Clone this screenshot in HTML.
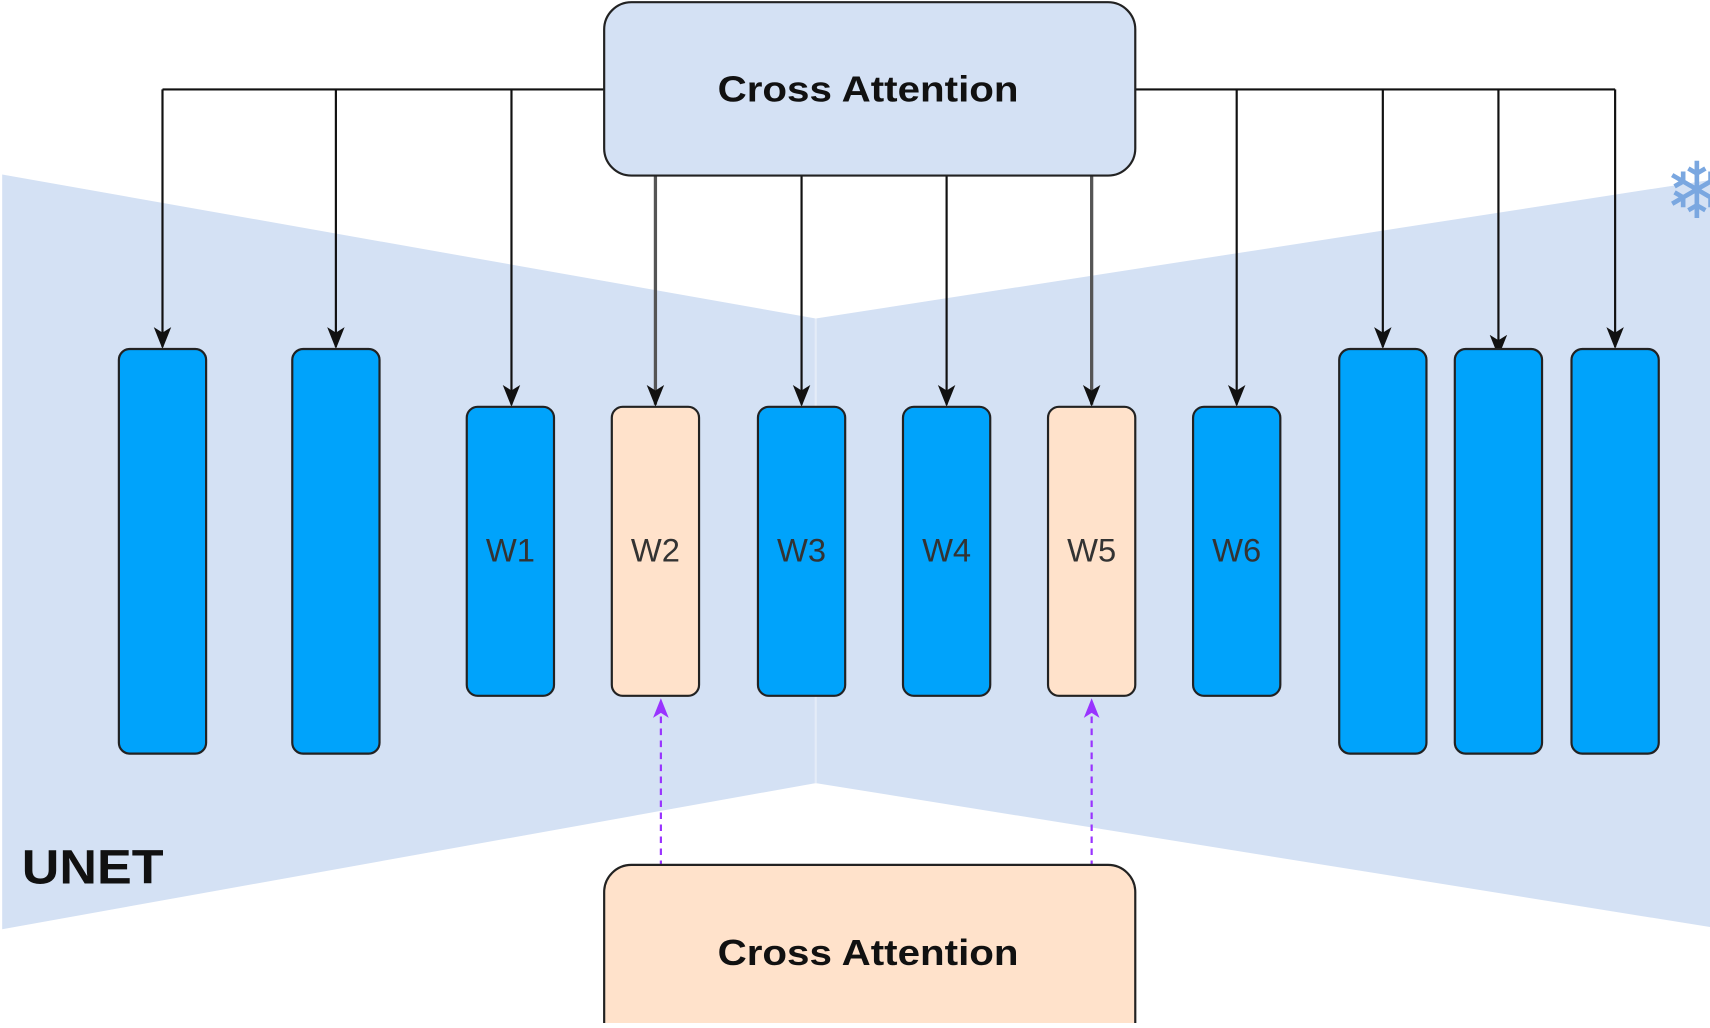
<!DOCTYPE html>
<html><head><style>html,body{margin:0;padding:0;background:#fff;overflow:hidden}</style></head>
<body>
<svg width="1710" height="1023" viewBox="0 0 1568 938" preserveAspectRatio="none" xmlns="http://www.w3.org/2000/svg" font-family="Liberation Sans, sans-serif">
<defs>
<marker id="a2" viewBox="0 0 20 20" markerWidth="20" markerHeight="20" refX="18" refY="10" orient="auto" markerUnits="userSpaceOnUse"><path d="M0,2 L20,10 L0,18 L5,10 z" fill="#111"/></marker>
<marker id="p" viewBox="0 0 20 20" markerWidth="18" markerHeight="18" refX="18" refY="10" orient="auto" markerUnits="userSpaceOnUse"><path d="M0,2 L20,10 L0,18 L5,10 z" fill="#9933ff"/></marker>
</defs>
<rect width="1568" height="938" fill="#fff"/>
<polygon points="2,160 748,292 748,718 2,852" fill="#d4e1f4"/>
<polygon points="748,292 1568,165 1568,850 748,718" fill="#d4e1f4"/>
<line x1="748" y1="292" x2="748" y2="718" stroke="#e4ecf8" stroke-width="2"/>
<text x="1556" y="200" font-size="72" fill="#7aa7e0" text-anchor="middle" font-family="DejaVu Sans, sans-serif">❄</text>
<g stroke="#111" stroke-width="2" fill="none">
<polyline points="149,82 554,82"/>
<polyline points="1041,82 1481,82"/>
<line x1="149" y1="82" x2="149" y2="318" marker-end="url(#a2)"/>
<line x1="308" y1="82" x2="308" y2="318" marker-end="url(#a2)"/>
<line x1="469" y1="82" x2="469" y2="371" marker-end="url(#a2)"/>
<line x1="601" y1="161" x2="601" y2="371" marker-end="url(#a2)" stroke="#555" stroke-width="3"/>
<line x1="735" y1="161" x2="735" y2="371" marker-end="url(#a2)"/>
<line x1="868" y1="161" x2="868" y2="371" marker-end="url(#a2)"/>
<line x1="1001" y1="161" x2="1001" y2="371" marker-end="url(#a2)" stroke="#555" stroke-width="3"/>
<line x1="1134" y1="82" x2="1134" y2="371" marker-end="url(#a2)"/>
<line x1="1268" y1="82" x2="1268" y2="318" marker-end="url(#a2)"/>
<line x1="1374" y1="82" x2="1374" y2="325" marker-end="url(#a2)"/>
<line x1="1481" y1="82" x2="1481" y2="318" marker-end="url(#a2)"/>
</g>
<rect x="554" y="2" width="487" height="159" rx="25" fill="#d4e1f4" stroke="#222" stroke-width="2"/>
<text x="658" y="93" font-size="33" font-weight="bold" fill="#111" textLength="276" lengthAdjust="spacingAndGlyphs">Cross Attention</text>
<g stroke="#222" stroke-width="2" fill="#00a3fb">
<rect x="109" y="320" width="80" height="371" rx="10"/>
<rect x="268" y="320" width="80" height="371" rx="10"/>
<rect x="1228" y="320" width="80" height="371" rx="10"/>
<rect x="1334" y="320" width="80" height="371" rx="10"/>
<rect x="1441" y="320" width="80" height="371" rx="10"/>
<rect x="428" y="373" width="80" height="265" rx="10"/>
<rect x="561" y="373" width="80" height="265" rx="10" fill="#ffe2cb"/>
<rect x="695" y="373" width="80" height="265" rx="10"/>
<rect x="828" y="373" width="80" height="265" rx="10"/>
<rect x="961" y="373" width="80" height="265" rx="10" fill="#ffe2cb"/>
<rect x="1094" y="373" width="80" height="265" rx="10"/>
</g>
<g font-size="30" fill="#333" text-anchor="middle">
<text x="468" y="515">W1</text><text x="601" y="515">W2</text><text x="735" y="515">W3</text>
<text x="868" y="515">W4</text><text x="1001" y="515">W5</text><text x="1134" y="515">W6</text>
</g>
<g stroke="#9933ff" stroke-width="2" stroke-dasharray="6,5">
<line x1="606" y1="795" x2="606" y2="642" marker-end="url(#p)"/>
<line x1="1001" y1="795" x2="1001" y2="642" marker-end="url(#p)"/>
</g>
<rect x="554" y="793" width="487" height="170" rx="25" fill="#ffe2cb" stroke="#222" stroke-width="2"/>
<text x="658" y="885" font-size="33" font-weight="bold" fill="#111" textLength="276" lengthAdjust="spacingAndGlyphs">Cross Attention</text>
<text x="20" y="810" font-size="44" font-weight="bold" fill="#111" textLength="130" lengthAdjust="spacingAndGlyphs">UNET</text>
</svg>
</body></html>
